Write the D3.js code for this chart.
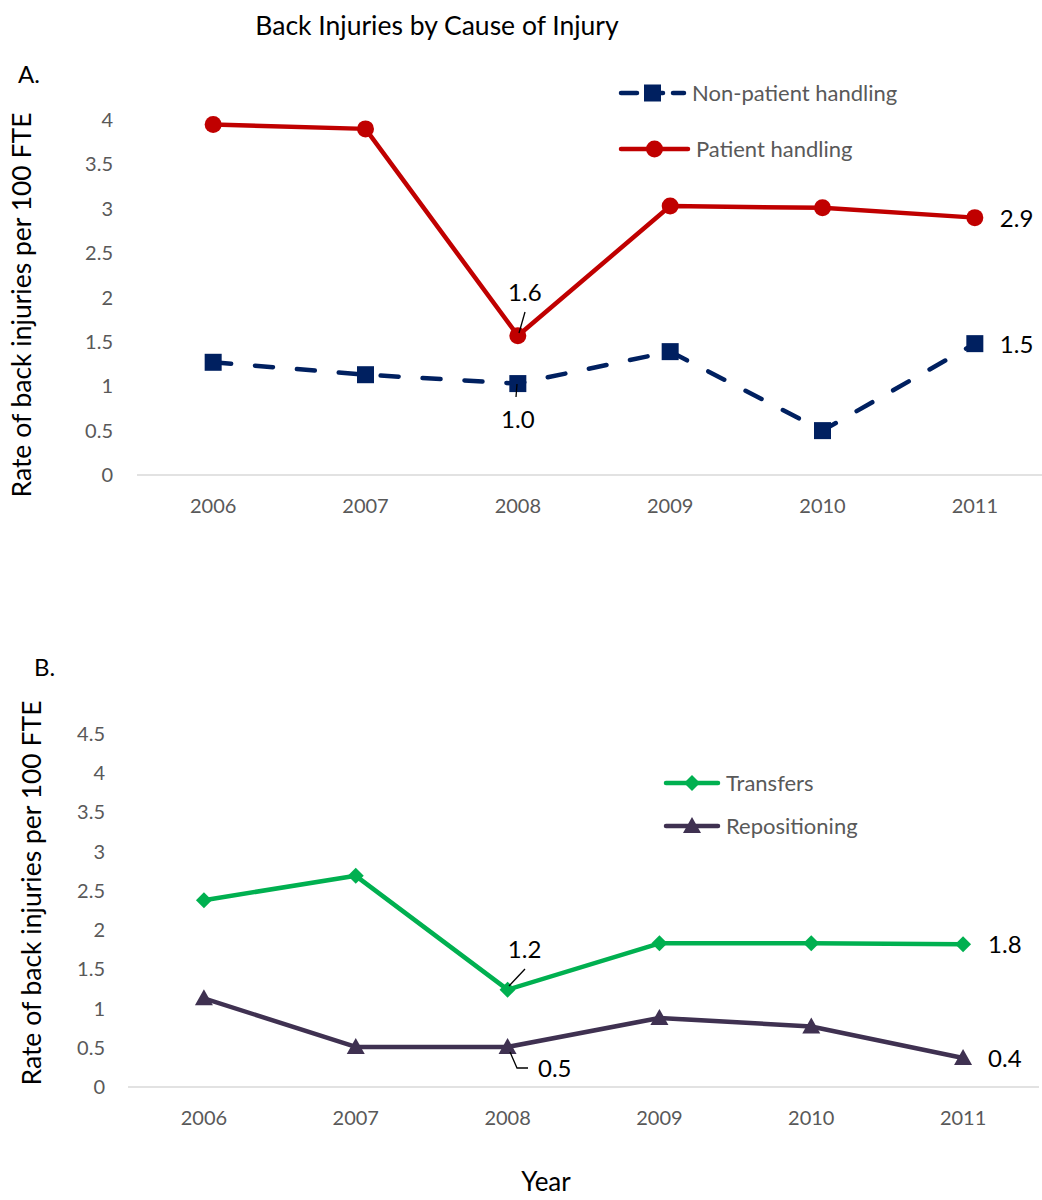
<!DOCTYPE html>
<html><head><meta charset="utf-8">
<script src="https://cdn.jsdelivr.net/npm/d3@7"></script>
<style>body{margin:0;background:#fff}svg{display:block}text{font-family:Lato,"Open Sans",sans-serif}</style>
</head><body><svg id="c" width="1042" height="1200"></svg>
<script>
const years = ["2006","2007","2008","2009","2010","2011"];
const nonPatient = [1.27, 1.13, 1.03, 1.39, 0.50, 1.48];
const patient = [3.95, 3.90, 1.57, 3.03, 3.01, 2.90];
const transfers = [2.38, 2.69, 1.24, 1.83, 1.83, 1.82];
const repositioning = [1.13, 0.51, 0.51, 0.88, 0.77, 0.37];
const ticksA = [0,0.5,1,1.5,2,2.5,3,3.5,4];
const ticksB = [0,0.5,1,1.5,2,2.5,3,3.5,4,4.5];

const svg = d3.select("#c");
const grey = "#595959";

svg.append("text").attr("x",437).attr("y",35).attr("text-anchor","middle").attr("font-size",26.5).attr("fill","#000").text("Back Injuries by Cause of Injury");
svg.append("text").attr("x",18).attr("y",83).attr("font-size",24).text("A.");
svg.append("text").attr("x",34).attr("y",676).attr("font-size",24).text("B.");
svg.append("text").attr("x",546).attr("y",1191).attr("text-anchor","middle").attr("font-size",26).text("Year");

function panel(cfg){
  const x = d3.scalePoint().domain(years).range([cfg.x0,cfg.x1]).padding(0.5);
  const y = d3.scaleLinear().domain([0,cfg.max]).range([cfg.yb, cfg.yb - cfg.max*cfg.ppu]);
  const g = svg.append("g");
  g.append("line").attr("x1",cfg.x0).attr("x2",cfg.x1).attr("y1",y(0)).attr("y2",y(0)).attr("stroke","#d9d9d9").attr("stroke-width",1.5);
  g.selectAll(".yt").data(cfg.ticks).enter().append("text").attr("x",cfg.tx).attr("y",d=>y(d)+7).attr("text-anchor","end").attr("font-size",20).attr("fill",grey).text(d=>d);
  g.selectAll(".xt").data(years).enter().append("text").attr("x",d=>x(d)).attr("y",cfg.xty).attr("text-anchor","middle").attr("font-size",20).attr("fill",grey).text(d=>d);
  g.append("text").attr("transform",`translate(${cfg.ax},${cfg.ay}) rotate(-90)`).attr("text-anchor","middle").attr("font-size",26.5).text("Rate of back injuries per 100 FTE");
  return {x,y,g};
}

function series(p, vals, color, marker, dash){
  const line = d3.line().x((d,i)=>p.x(years[i])).y(d=>p.y(d));
  p.g.append("path").datum(vals).attr("d",line).attr("fill","none").attr("stroke",color).attr("stroke-width",4.5)
    .attr("stroke-linecap","round").attr("stroke-linejoin","round").attr("stroke-dasharray",dash||null);
  vals.forEach((v,i)=>drawMarker(p.g, p.x(years[i]), p.y(v), marker, color));
}
function drawMarker(g,cx,cy,m,color){
  if(m==="circle") g.append("circle").attr("cx",cx).attr("cy",cy).attr("r",8.5).attr("fill",color);
  else if(m==="square") g.append("rect").attr("x",cx-8.5).attr("y",cy-8.5).attr("width",17).attr("height",17).attr("fill",color);
  else if(m==="diamond") g.append("path").attr("d",`M${cx},${cy-8}L${cx+8},${cy}L${cx},${cy+8}L${cx-8},${cy}Z`).attr("fill",color);
  else if(m==="triangle") g.append("path").attr("d",`M${cx},${cy-9}L${cx+9},${cy+7}L${cx-9},${cy+7}Z`).attr("fill",color);
}
function legend(x1,x2,y,color,marker,label,dash){
  svg.append("line").attr("x1",x1).attr("x2",x2).attr("y1",y).attr("y2",y).attr("stroke",color).attr("stroke-width",4.5).attr("stroke-linecap","round").attr("stroke-dasharray",dash||null);
  drawMarker(svg,(x1+x2)/2,y,marker,color);
  svg.append("text").attr("x",x2+8).attr("y",y+8).attr("font-size",22).attr("fill",grey).text(label);
}
function label(x,y,t,anchor){
  svg.append("text").attr("x",x).attr("y",y).attr("text-anchor",anchor||"start").attr("font-size",24).attr("fill","#000").text(t);
}
function leader(pts){
  svg.append("path").attr("d",d3.line()(pts)).attr("fill","none").attr("stroke","#000").attr("stroke-width",1.3);
}

// Panel A
const A = panel({x0:137,x1:1051,yb:475,ppu:88.75,max:4,ticks:ticksA,tx:113,xty:513,ax:31,ay:305});
series(A, nonPatient, "#002060", "square", "18 24");
series(A, patient, "#C00000", "circle");
legend(621,684,93,"#002060","square","Non-patient handling","16 10");
legend(621,688,149,"#C00000","circle","Patient handling");
label(A.x("2011")+25, A.y(patient[5])+9, patient[5].toFixed(1));
label(A.x("2011")+25, A.y(nonPatient[5])+9, nonPatient[5].toFixed(1));
label(A.x("2008")+7, 301, patient[2].toFixed(1), "middle");
leader([[525,312],[519,333]]);
label(A.x("2008"), 428, nonPatient[2].toFixed(1), "middle");
leader([[517,384],[516,397]]);

// Panel B
const B = panel({x0:128,x1:1039,yb:1087,ppu:78.5,max:4.5,ticks:ticksB,tx:105,xty:1125,ax:41,ay:893});
series(B, transfers, "#00B050", "diamond");
series(B, repositioning, "#3F3151", "triangle");
legend(666,718,783,"#00B050","diamond","Transfers");
legend(666,718,826,"#3F3151","triangle","Repositioning");
label(B.x("2011")+25, B.y(transfers[5])+9, transfers[5].toFixed(1));
label(B.x("2011")+25, B.y(repositioning[5])+9, repositioning[5].toFixed(1));
label(B.x("2008")+17, 958, transfers[2].toFixed(1), "middle");
leader([[525,969],[509,986]]);
label(538, 1077, repositioning[2].toFixed(1));
leader([[510,1052],[517,1068],[528,1068]]);
</script></body></html>
